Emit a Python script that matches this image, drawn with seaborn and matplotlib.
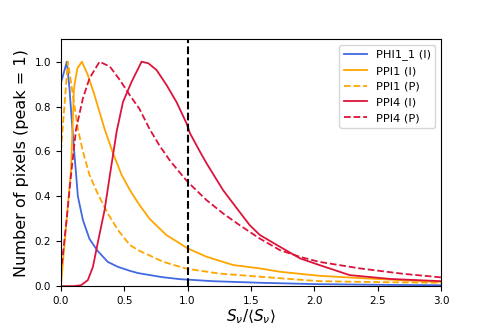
import matplotlib
matplotlib.use("Agg")
import matplotlib.pyplot as plt
import seaborn as sns

# PHI1_1 (I)
phi_x = [0.0, 0.008, 0.047, 0.068, 0.087, 0.108, 0.12, 0.134, 0.174, 0.226, 0.29, 0.37, 0.45, 0.545,
         0.61, 0.8, 0.94, 1.0, 1.2, 1.57, 2.0, 2.5, 3.0]
phi_y = [0.91, 0.92, 1.0, 0.88, 0.73, 0.58, 0.50, 0.40, 0.294, 0.21, 0.157, 0.108, 0.086, 0.068,
         0.058, 0.04, 0.031, 0.029, 0.022, 0.015, 0.009, 0.006, 0.004]

# PPI1 (I)
ppi1_i_x = [0.0, 0.04, 0.08, 0.103, 0.13, 0.166, 0.213, 0.266, 0.308, 0.345, 0.413, 0.48, 0.545,
            0.61, 0.7, 0.834, 0.94, 1.0, 1.15, 1.36, 1.57, 1.73, 2.04, 2.36, 2.7, 3.0]
ppi1_i_y = [0.0, 0.26, 0.517, 0.88, 0.97, 1.0, 0.94, 0.85, 0.77, 0.70, 0.59, 0.495, 0.428,
            0.37, 0.30, 0.227, 0.19, 0.168, 0.131, 0.094, 0.079, 0.064, 0.046, 0.036, 0.026, 0.019]

# PPI1 (P)
ppi1_p_x = [0.0, 0.055, 0.095, 0.134, 0.174, 0.226, 0.29, 0.37, 0.45, 0.545, 0.61, 0.81, 0.94, 1.0,
            1.25, 1.57, 2.04, 2.5, 3.0]
ppi1_p_y = [0.6, 1.0, 0.85, 0.70, 0.60, 0.495, 0.413, 0.324, 0.25, 0.183, 0.16, 0.108, 0.086, 0.077,
            0.056, 0.042, 0.022, 0.018, 0.015]

# PPI4 (I)
ppi4_i_x = [0.0, 0.1, 0.16, 0.213, 0.253, 0.29, 0.345, 0.387, 0.44, 0.49, 0.558, 0.637, 0.69, 0.755,
            0.834, 0.913, 0.992, 1.02, 1.097, 1.15, 1.28, 1.41, 1.49, 1.57, 1.73, 1.89, 2.04, 2.28, 2.6, 3.0]
ppi4_i_y = [0.0, 0.0, 0.004, 0.027, 0.086, 0.19, 0.339, 0.495, 0.688, 0.82, 0.91, 1.0, 0.993, 0.963,
            0.896, 0.82, 0.725, 0.68, 0.6, 0.547, 0.428, 0.331, 0.272, 0.228, 0.175, 0.123, 0.094, 0.049, 0.032, 0.022]

# PPI4 (P)
ppi4_p_x = [0.0, 0.008, 0.042, 0.08, 0.12, 0.174, 0.226, 0.305, 0.387, 0.466, 0.545, 0.62, 0.70, 0.78,
            0.86, 0.94, 1.0, 1.15, 1.28, 1.41, 1.57, 1.73, 1.89, 2.04, 2.36, 2.7, 3.0]
ppi4_p_y = [0.1, 0.1, 0.28, 0.495, 0.70, 0.837, 0.926, 1.0, 0.978, 0.918, 0.85, 0.79, 0.70, 0.625,
            0.56, 0.505, 0.465, 0.383, 0.324, 0.272, 0.212, 0.16, 0.13, 0.108, 0.079, 0.055, 0.039]

fig, ax = plt.subplots(figsize=(4.91, 3.27), dpi=100)
fig.subplots_adjust(left=0.124, right=0.898, bottom=0.125, top=0.88)

sns.lineplot(x=phi_x, y=phi_y, ax=ax, color="royalblue", label="PHI1_1 (I)", lw=1.3)
sns.lineplot(x=ppi1_i_x, y=ppi1_i_y, ax=ax, color="orange", label="PPI1 (I)", lw=1.3)
sns.lineplot(x=ppi1_p_x, y=ppi1_p_y, ax=ax, color="orange", linestyle="--", label="PPI1 (P)", lw=1.3)
sns.lineplot(x=ppi4_i_x, y=ppi4_i_y, ax=ax, color="crimson", label="PPI4 (I)", lw=1.3)
sns.lineplot(x=ppi4_p_x, y=ppi4_p_y, ax=ax, color="crimson", linestyle="--", label="PPI4 (P)", lw=1.3)

ax.axvline(1.0, color="black", linestyle="--", lw=1.5)

ax.set_xlim(0, 3)
ax.set_ylim(0, 1.1)
ax.set_xlabel(r"$S_\nu/\langle S_\nu\rangle$", fontsize=11, labelpad=1)
ax.set_ylabel("Number of pixels (peak = 1)", fontsize=11.5)
ax.tick_params(labelsize=7.5)
ax.legend(loc="upper right", fontsize=8.2)

plt.savefig("out.png", dpi=100)
